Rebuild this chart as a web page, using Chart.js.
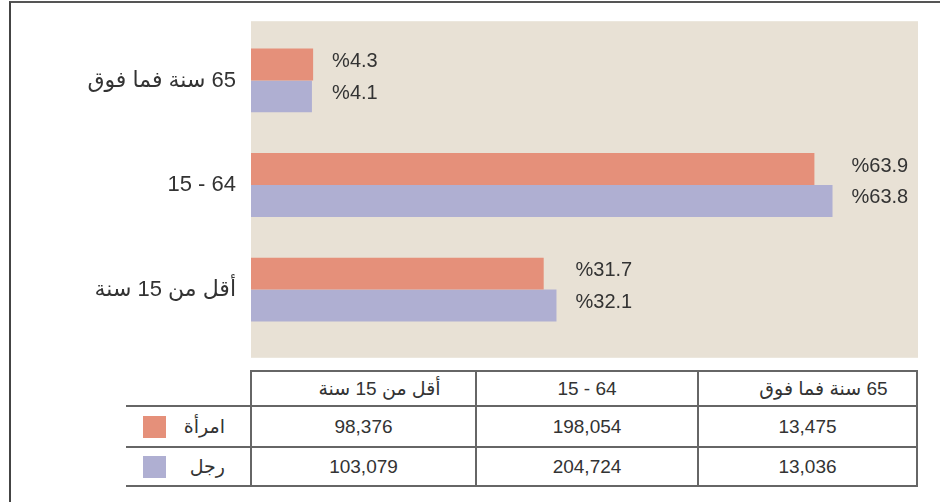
<!DOCTYPE html>
<html lang="ar">
<head>
<meta charset="utf-8">
<script src="https://cdn.jsdelivr.net/npm/chart.js@4.4.1/dist/chart.umd.min.js"></script>
<style>
    html, body { margin: 0; padding: 0; background: #fff; }
    body { width: 940px; height: 502px; position: relative; overflow: hidden; font-family: "Liberation Sans", "DejaVu Sans", sans-serif; color: #333; }
    #frame { position: absolute; left: 9px; top: 1px; width: 940px; height: 510px; border-top: 2px solid #555; border-left: 2px solid #444; }
    #chart-wrap { position: absolute; left: 0; top: 0; width: 940px; height: 370px; }
    #data-table { position: absolute; left: 126px; top: 370px; border-collapse: collapse; table-layout: fixed; font-size: 19px; }
    #data-table th, #data-table td { border: 2px solid #666; text-align: center; padding: 0; font-weight: normal; color: #333; }
    #data-table th.ar { padding-left: 32px; }
    #data-table .legend-cell { border-left: none; position: relative; text-align: right; padding-right: 25px; }
    #data-table th.legend-cell { border-top: none; border-bottom: none; border-right: none; }
    .swatch { position: absolute; left: 17px; top: 50%; width: 23px; height: 22px; margin-top: -11px; }
</style>
</head>
<body>
<div id="frame"></div>
<div id="chart-wrap"><canvas id="age-chart" width="940" height="370" dir="rtl"></canvas></div>
<table id="data-table" dir="rtl">
    <colgroup id="cols"></colgroup>
    <thead><tr id="head-row"></tr></thead>
    <tbody id="table-body"></tbody>
</table>
<script>
// Age groups, top to bottom in the chart (right to left in the table)
const categories = ['65 سنة فما فوق', '15 - 64', 'أقل من 15 سنة'];
const seriesNames = ['امرأة', 'رجل'];
const seriesColors = ['#E5907A', '#AFAFD2'];

// Population counts (bars are drawn from these)
const womenCounts = [13475, 198054, 98376];
const menCounts = [13036, 204724, 103079];

// Share of each gender, shown as bar labels
const womenPct = [4.3, 63.9, 31.7];
const menPct = [4.1, 63.8, 32.1];

// Axis starts a bit below zero, like the original drawing
const xMin = -9400;
const xMax = 236200;

const countsBySeries = [womenCounts, menCounts];
const pctBySeries = [womenPct, menPct];

const hasArabic = t => /[\u0600-\u06FF]/.test(t);
// keep plain number ranges left-to-right inside the RTL text
const isolate = t => hasArabic(t) ? t : '\u2066' + t + '\u2069';

// Beige plot background, a little taller than the bar area
const plotBackground = {
    id: 'plotBackground',
    beforeDraw(chart) {
        const { ctx, chartArea } = chart;
        ctx.save();
        ctx.fillStyle = '#E8E1D5';
        ctx.fillRect(chartArea.left, chartArea.top - 7, chartArea.right - chartArea.left, chartArea.bottom - chartArea.top + 23);
        ctx.restore();
    }
};

// Percent labels to the right of each pair of bars
const pctLabels = {
    id: 'pctLabels',
    afterDatasetsDraw(chart) {
        const { ctx } = chart;
        const metas = [chart.getDatasetMeta(0), chart.getDatasetMeta(1)];
        ctx.save();
        ctx.font = '20px "Liberation Sans", "DejaVu Sans", sans-serif';
        ctx.fillStyle = '#333';
        ctx.textAlign = 'left';
        ctx.textBaseline = 'middle';
        categories.forEach((cat, i) => {
            const right = Math.max(metas[0].data[i].x, metas[1].data[i].x);
            metas.forEach((meta, s) => {
                const bar = meta.data[i];
                ctx.fillText('%' + pctBySeries[s][i].toFixed(1), right + 19, bar.y - 3);
            });
        });
        ctx.restore();
    }
};

document.addEventListener('DOMContentLoaded', () => {
    const ctx = document.getElementById('age-chart').getContext('2d');
    new Chart(ctx, {
        type: 'bar',
        data: {
            labels: categories,
            datasets: seriesNames.map((name, s) => ({
                label: name,
                data: countsBySeries[s],
                backgroundColor: seriesColors[s],
                base: xMin,
                borderWidth: 0,
                categoryPercentage: 0.61,
                barPercentage: 1
            }))
        },
        options: {
            indexAxis: 'y',
            responsive: false,
            animation: false,
            devicePixelRatio: 1,
            layout: { padding: { top: 27, bottom: 27, left: 0, right: 22 } },
            plugins: { legend: { display: false }, tooltip: { enabled: false } },
            scales: {
                x: { display: false, min: xMin, max: xMax },
                y: {
                    grid: { display: false, drawTicks: false },
                    border: { display: false },
                    ticks: {
                        color: '#333',
                        padding: 15,
                        font: { family: '"Liberation Sans", "DejaVu Sans", sans-serif', size: 22 },
                        callback: function(value) { return isolate(this.getLabelForValue(value)); }
                    },
                    afterFit(scale) { scale.width = 251; }
                }
            }
        },
        plugins: [plotBackground, pctLabels]
    });

    // Data table under the chart (RTL, so categories read right to left)
    const colWidths = [219, 222, 225, 125];
    document.getElementById('cols').innerHTML = colWidths.map(w => `<col style="width:${w}px">`).join('');
    document.getElementById('head-row').innerHTML =
        categories.map(c => `<th class="${hasArabic(c) ? 'ar' : ''}" style="height:33px">${isolate(c)}</th>`).join('') +
        '<th class="legend-cell"></th>';
    const rowHeights = [41, 39];
    document.getElementById('table-body').innerHTML = seriesNames.map((name, s) => `
        <tr style="height:${rowHeights[s]}px">
            ${countsBySeries[s].map(v => `<td>${v.toLocaleString('en-US')}</td>`).join('')}
            <td class="legend-cell">${name}<span class="swatch" style="background:${seriesColors[s]}"></span></td>
        </tr>`).join('');
});
</script>
</body>
</html>
